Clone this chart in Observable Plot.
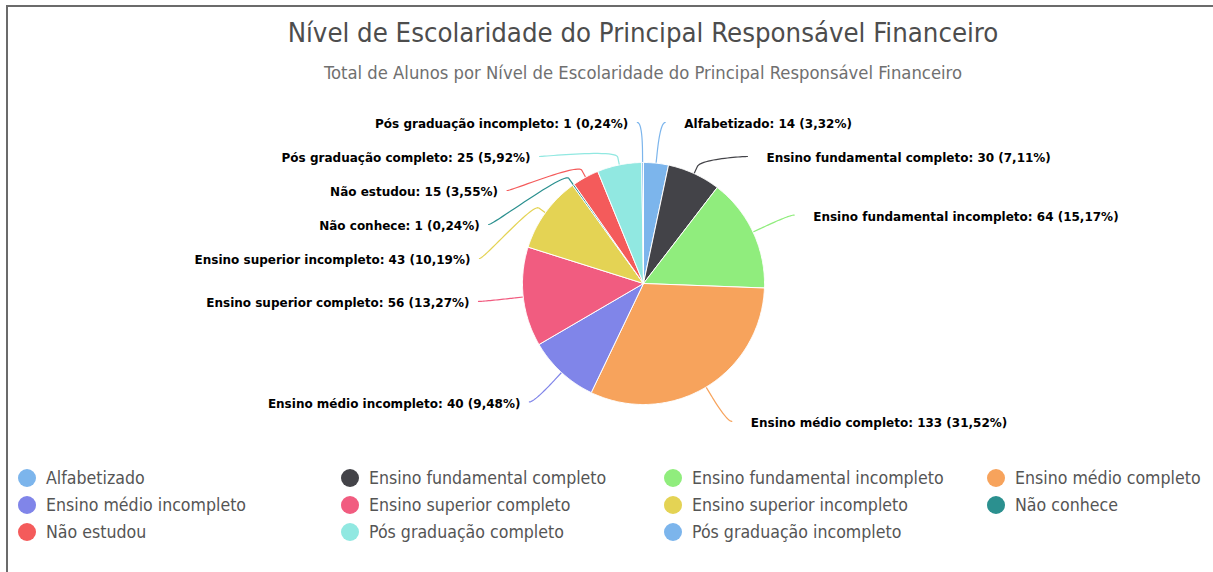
<!DOCTYPE html>
<html>
<head>
<meta charset="utf-8">
<script src="https://cdn.jsdelivr.net/npm/d3@7"></script>
<script src="https://cdn.jsdelivr.net/npm/@observablehq/plot@0.6"></script>
<style>
  html, body { margin: 0; padding: 0; background: #fff; }
  body { width: 1213px; height: 572px; position: relative; overflow: hidden; font-family: "DejaVu Sans Condensed", "DejaVu Sans", sans-serif; }
  #frame { position: absolute; left: 6px; top: 5px; width: 1220px; height: 600px; border-top: 2px solid #6b6b6b; border-left: 2px solid #6b6b6b; box-sizing: border-box; }
  .title { position: absolute; left: 643px; transform: translateX(-50%); white-space: nowrap; line-height: 1.15; }
  #t1 { top: 17px; font-size: 27.3px; color: #4d4d4d; }
  #t2 { top: 62px; font-size: 18.3px; color: #707070; }
  #chart { position: absolute; left: 0; top: 0; }
  #legend { position: absolute; left: 18px; top: 466px; display: grid; grid-template-columns: repeat(4, 323px); row-gap: 4px; }
  .item { display: flex; align-items: center; height: 23px; font-size: 17.6px; color: #555; white-space: nowrap; }
  .dot { width: 18px; height: 18px; border-radius: 50%; margin-right: 10px; flex: none; }
</style>
</head>
<body>
<div id="frame"></div>
<div id="chart"></div>
<div class="title" id="t1"></div>
<div class="title" id="t2"></div>
<div id="legend"></div>
<script>
const titleText = "Nível de Escolaridade do Principal Responsável Financeiro";
const subtitleText = "Total de Alunos por Nível de Escolaridade do Principal Responsável Financeiro";
const names = ["Alfabetizado", "Ensino fundamental completo", "Ensino fundamental incompleto", "Ensino médio completo", "Ensino médio incompleto", "Ensino superior completo", "Ensino superior incompleto", "Não conhece", "Não estudou", "Pós graduação completo", "Pós graduação incompleto"];
const values = [14, 30, 64, 133, 40, 56, 43, 1, 15, 25, 1];
const colors = ["#7cb5ec", "#434348", "#90ed7d", "#f7a35c", "#8085e9", "#f15c80", "#e4d354", "#2b908f", "#f45b5b", "#91e8e1", "#7cb5ec"];

document.getElementById("t1").textContent = titleText;
document.getElementById("t2").textContent = subtitleText;

// layout
const W = 1213, H = 460;
const cx = 643, cy = 283, r = 121, labelDistance = 40, slot = 34, pad = 5, connOffset = 8;
const R = r + labelDistance;
const total = d3.sum(values);
const fmtPct = v => (v * 100 / total).toFixed(2).replace(".", ",");

const pos = (a, rad) => [cx + rad * Math.sin(a), cy - rad * Math.cos(a)];

// slices
let acc = 0;
const slices = names.map((name, i) => {
  const a0 = acc / total * 2 * Math.PI;
  acc += values[i];
  const a1 = acc / total * 2 * Math.PI;
  return {name, value: values[i], a0, a1, mid: (a0 + a1) / 2};
});

const slicePts = [];
for (const s of slices) {
  slicePts.push({name: s.name, x: cx, y: cy});
  const n = Math.max(2, Math.ceil((s.a1 - s.a0) / 0.01));
  for (let k = 0; k <= n; k++) {
    const a = s.a0 + (s.a1 - s.a0) * k / n;
    const [x, y] = pos(a, r);
    slicePts.push({name: s.name, x, y});
  }
  slicePts.push({name: s.name, x: cx, y: cy});
}

// labels (Highcharts-like distribution)
const minY = cy - R, maxY = cy + R;
const labels = slices.map(s => ({
  ...s,
  left: s.mid > Math.PI,
  target: cy - R * Math.cos(s.mid),
  text: `${s.name}: ${s.value} (${fmtPct(s.value)}%)`
}));

function distribute(items) {
  items.sort((a, b) => a.target - b.target);
  const groups = items.map(d => ({items: [d]}));
  const place = g => {
    const n = g.items.length;
    let s = d3.mean(g.items, d => d.target) - (n - 1) * slot / 2;
    s = Math.max(minY, Math.min(s, maxY - (n - 1) * slot));
    g.start = s;
  };
  groups.forEach(place);
  let merged = true;
  while (merged) {
    merged = false;
    for (let i = 0; i < groups.length - 1; i++) {
      const a = groups[i], b = groups[i + 1];
      if (a.start + a.items.length * slot > b.start + 1e-9) {
        a.items = a.items.concat(b.items);
        groups.splice(i + 1, 1);
        place(a);
        merged = true;
        break;
      }
    }
  }
  groups.forEach(g => g.items.forEach((d, k) => d.y = g.start + k * slot));
}
distribute(labels.filter(d => !d.left));
distribute(labels.filter(d => d.left));

const getX = (y, left) => {
  const dy = Math.max(-R, Math.min(R, y - cy));
  return cx + (left ? -1 : 1) * (Math.sqrt(R * R - dy * dy) + pad);
};

const connPts = [];
for (const d of labels) {
  const useY = (Math.abs(d.y - minY) < 0.5 || Math.abs(d.y - maxY) < 0.5) ? d.target : d.y;
  d.x = getX(useY, d.left);
  d.tx = d.x + (d.left ? -9 : 19);
  const ux = Math.sin(d.mid), uy = -Math.cos(d.mid);
  const touch = [cx + r * ux, cy + r * uy];
  const brk = [touch[0] + connOffset * ux, touch[1] + connOffset * uy];
  const p0 = [d.x, d.y];
  const p1 = [d.x + (d.left ? 5 : -5), d.y];
  const p2 = [2 * brk[0] - touch[0], 2 * brk[1] - touch[1]];
  const p3 = brk;
  const N = 24;
  for (let k = 0; k <= N; k++) {
    const t = k / N, u = 1 - t;
    const x = u*u*u*p0[0] + 3*u*u*t*p1[0] + 3*u*t*t*p2[0] + t*t*t*p3[0];
    const y = u*u*u*p0[1] + 3*u*u*t*p1[1] + 3*u*t*t*p2[1] + t*t*t*p3[1];
    connPts.push({name: d.name, x, y});
  }
  connPts.push({name: d.name, x: touch[0], y: touch[1]});
}

const labelFont = "DejaVu Sans, sans-serif";
const chart = Plot.plot({
  width: W, height: H, margin: 0,
  style: {background: "transparent", overflow: "visible"},
  x: {domain: [0, W], range: [0, W], axis: null},
  y: {domain: [0, H], range: [0, H], axis: null},
  color: {domain: names, range: colors},
  marks: [
    Plot.line(connPts, {x: "x", y: "y", z: "name", stroke: "name", strokeWidth: 1.2, curve: "linear"}),
    Plot.line(slicePts, {x: "x", y: "y", z: "name", fill: "name", stroke: "white", strokeWidth: 1, strokeLinejoin: "round", curve: "linear"}),
    Plot.text(labels.filter(d => !d.left), {x: "tx", y: "y", dy: 2, text: "text", textAnchor: "start", fontWeight: "bold", fontSize: 12, fill: "black", fontFamily: labelFont}),
    Plot.text(labels.filter(d => d.left), {x: "tx", y: "y", dy: 2, text: "text", textAnchor: "end", fontWeight: "bold", fontSize: 12, fill: "black", fontFamily: labelFont})
  ]
});
document.getElementById("chart").appendChild(chart);

// legend
const leg = document.getElementById("legend");
names.forEach((n, i) => {
  const it = document.createElement("div");
  it.className = "item";
  const dot = document.createElement("span");
  dot.className = "dot";
  dot.style.background = colors[i];
  const tx = document.createElement("span");
  tx.textContent = n;
  it.appendChild(dot); it.appendChild(tx);
  leg.appendChild(it);
});
</script>
</body>
</html>
